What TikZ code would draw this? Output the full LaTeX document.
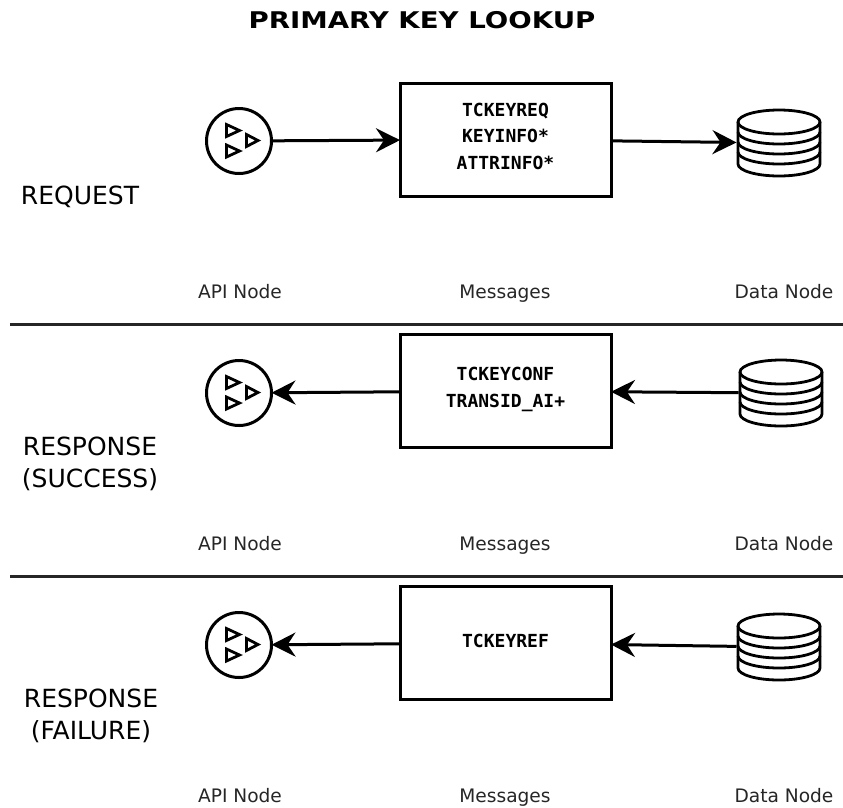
\documentclass[tikz,border=0pt]{standalone}
\usepackage{fontspec}
\setmainfont{DejaVu Sans}
\setmonofont{DejaVu Sans Mono}
\newfontfamily\titlefont[FakeStretch=1.2]{DejaVu Sans}
\usetikzlibrary{arrows.meta,shapes.geometric}
\tikzset{
  ink/.style={draw=black,line width=3pt},
  msgbox/.style={ink,rectangle,minimum width=211pt,minimum height=113pt,inner sep=0pt,outer sep=0pt,
     fill=white},
  msgtext/.style={font=\ttfamily\bfseries\fontsize{18}{26.5}\selectfont,align=center,anchor=center,inner sep=0pt},
  apicircle/.style={circle,draw=black,line width=3pt,minimum size=65pt,inner sep=0pt,outer sep=0pt},
  dbanchor/.style={rectangle,minimum width=83pt,minimum height=66pt,inner sep=0pt,outer sep=1pt},
  flow/.style={draw=black,line width=3pt,-{Stealth[length=24pt,width=24pt,inset=8pt]}},
  caption/.style={font=\fontsize{18.6}{22}\selectfont,anchor=base,inner sep=0pt,text=black!85},
  rowlabel/.style={font=\fontsize{25}{32}\selectfont,align=center,anchor=center,inner sep=0pt},
  divider/.style={draw=black!85,line width=3pt},
  tri/.style={draw=black,line width=2.8pt,line join=miter,fill=white}
}
\newcommand{\apiicon}[3]{%
  \node[apicircle] (#1) at (#2,#3) {};
  \draw[tri] (#2-12.5,#3-16.5) -- (#2-12.5,#3-4.5) -- (#2+0.5,#3-10.5) -- cycle;
  \draw[tri] (#2-12.5,#3+4) -- (#2-12.5,#3+16) -- (#2+0.5,#3+10) -- cycle;
  \draw[tri] (#2+7.5,#3-6.5) -- (#2+7.5,#3+5.5) -- (#2+19,#3-0.5) -- cycle;
}
\newcommand{\dbicon}[3]{%
  \node[dbanchor] (#1) at (#2,#3) {};
  \begin{scope}[line width=2.8pt,draw=black]
    \draw (#2-41,#3-21) -- (#2-41,#3+21) arc[start angle=180,end angle=0,x radius=41,y radius=12] -- (#2+41,#3-21);
    \draw (#2,#3-21) ellipse[x radius=41,y radius=12];
    \draw (#2-41,#3-11) arc[start angle=180,end angle=0,x radius=41,y radius=12];
    \draw (#2-41,#3-1) arc[start angle=180,end angle=0,x radius=41,y radius=12];
    \draw (#2-41,#3+9) arc[start angle=180,end angle=0,x radius=41,y radius=12];
  \end{scope}
}
\begin{document}
\begin{tikzpicture}[x=1pt,y=-1pt]
\useasboundingbox (0,0) rectangle (843,807);
\node[font=\titlefont\bfseries\fontsize{23}{26}\selectfont,inner sep=0pt] (title) at (422,20) {PRIMARY KEY LOOKUP};

% request
\apiicon{apiA}{239}{141}
\dbicon{dbA}{779}{143}
\node[msgbox] (boxA) at (505.5,139.5) {};
\node[msgtext] (msgA) at (505.5,136) {TCKEYREQ\\KEYINFO*\\ATTRINFO*};
\draw[flow] (apiA) -- (boxA);
\draw[flow] (boxA) -- (dbA);
\node[rowlabel] (rowA) at (80,197) {REQUEST};
\node[caption] (capA1) at (240,298) {API Node};
\node[caption] (capA2) at (505,298) {Messages};
\node[caption] (capA3) at (784,298) {Data Node};

\coordinate (divAl) at (10,324);
\coordinate (divAr) at (843,324);
\draw[divider] (divAl) -- (divAr);

% success
\apiicon{apiB}{239}{393}
\dbicon{dbB}{781}{393}
\node[msgbox] (boxB) at (505.5,391) {};
\node[msgtext] (msgB) at (505.5,389.5) {TCKEYCONF\\TRANSID\_AI+};
\draw[flow] (boxB) -- (apiB);
\draw[flow] (dbB) -- (boxB);
\node[rowlabel] (rowB) at (90,464) {RESPONSE\\(SUCCESS)};
\node[caption] (capB1) at (240,550) {API Node};
\node[caption] (capB2) at (505,550) {Messages};
\node[caption] (capB3) at (784,550) {Data Node};

\coordinate (divBl) at (10,576);
\coordinate (divBr) at (843,576);
\draw[divider] (divBl) -- (divBr);

% failure
\apiicon{apiC}{239}{645}
\dbicon{dbC}{779}{647}
\node[msgbox] (boxC) at (505.5,643) {};
\node[msgtext] (msgC) at (505.5,641) {TCKEYREF};
\draw[flow] (boxC) -- (apiC);
\draw[flow] (dbC) -- (boxC);
\node[rowlabel] (rowC) at (91,716) {RESPONSE\\(FAILURE)};
\node[caption] (capC1) at (240,802) {API Node};
\node[caption] (capC2) at (505,802) {Messages};
\node[caption] (capC3) at (784,802) {Data Node};
\end{tikzpicture}
\end{document}
